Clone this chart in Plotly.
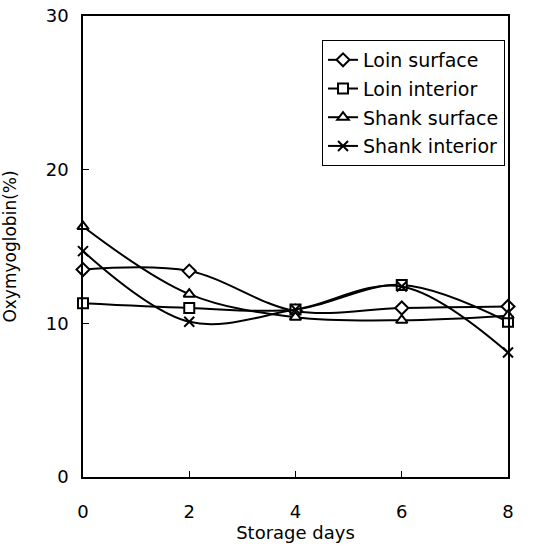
import plotly.graph_objects as go

days = [0, 2, 4, 6, 8]
loin_surface = [13.5, 13.4, 10.8, 11.0, 11.1]
loin_interior = [11.3, 11.0, 10.9, 12.5, 10.1]
shank_surface = [16.3, 11.9, 10.4, 10.2, 10.5]
shank_interior = [14.7, 10.1, 10.9, 12.4, 8.1]

series = [
    ("Loin surface", loin_surface, "diamond", 10),
    ("Loin interior", loin_interior, "square", 10),
    ("Shank surface", shank_surface, "triangle-up", 10),
    ("Shank interior", shank_interior, "x-thin", 10),
]

fig = go.Figure()
for i, (name, vals, sym, sz) in enumerate(series):
    fig.add_trace(go.Scatter(
        x=days, y=vals, name=name, mode="lines+markers",
        line=dict(color="black", width=2, shape="spline", smoothing=1.0),
        marker=dict(symbol=sym, size=sz, color="white",
                    line=dict(color="black", width=2)),
        legendgroup=f"g{i}", cliponaxis=False,
    ))

font = "DejaVu Sans, sans-serif"
fig.update_layout(
    width=546, height=552,
    margin=dict(l=83, r=38, t=16, b=75),
    paper_bgcolor="white", plot_bgcolor="white",
    font=dict(family=font, size=18, color="black"),
    showlegend=True,
    legend=dict(
        x=0.5624, y=0.948, xanchor="left", yanchor="top",
        bordercolor="black", borderwidth=1, bgcolor="white",
        font=dict(size=19), tracegroupgap=1, itemwidth=30,
    ),
    xaxis=dict(
        range=[0, 8], tickvals=[0, 2, 4, 6, 8], ticks="inside", ticklen=6,
        tickcolor="black", showline=True, linecolor="black", linewidth=1.5,
        mirror=True, showgrid=False, zeroline=False, automargin=False,
        title=dict(text="Storage days", font=dict(size=18), standoff=4),
        ticklabelstandoff=18,
    ),
    yaxis=dict(
        range=[0, 30], tickvals=[0, 10, 20, 30], ticks="inside", ticklen=6,
        tickcolor="black", showline=True, linecolor="black", linewidth=1.5,
        mirror=True, showgrid=False, zeroline=False, automargin=False,
        title=dict(text="Oxymyoglobin(%)", font=dict(size=17), standoff=26),
        ticklabelstandoff=9,
    ),
)

fig.write_html("out.html", config={"displayModeBar": False},
               post_script="document.body.style.margin='0';")
